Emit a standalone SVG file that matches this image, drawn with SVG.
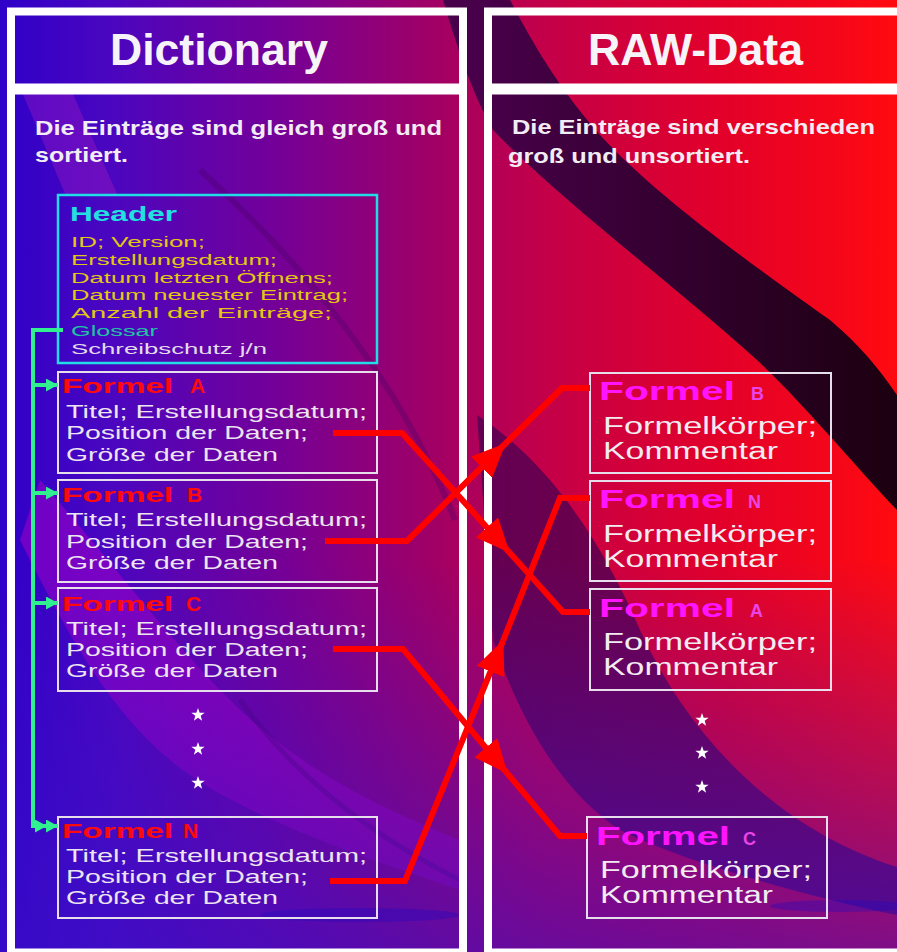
<svg xmlns="http://www.w3.org/2000/svg" width="897" height="952" viewBox="0 0 897 952">
<style>
.frame{fill:none;stroke:#ffffff;stroke-width:8}
.bar{stroke:#ffffff;stroke-width:11}
.box{fill:none;stroke:#e6deea;stroke-width:2}
.hdr{fill:none;stroke:#22dde6;stroke-width:2.5}
text{font-family:"Liberation Sans",Arial,sans-serif}
.title{font-weight:bold;font-size:44px;fill:#f6f4f8}
.sub{font-weight:bold;font-size:21px;fill:#f2ecf4}
.hname{font-weight:bold;font-size:20px;fill:#22e0e0}
.hl{font-size:14px;fill:#e2c812}
.hg{font-size:14px;fill:#1fc4a2}
.hs{font-size:14px;fill:#e2dcea}
.fl{font-weight:bold;font-size:21px;fill:#ff0a0a}
.bl{font-size:19px;fill:#ece4f0}
.fr{font-weight:bold;font-size:25px;fill:#ff14ff}
.frl{font-weight:bold;font-size:18px;fill:#e844e8}
.br{font-size:23px;fill:#f2ecf2}
.red{fill:none;stroke:#ff0000;stroke-width:6}
.grn{fill:none;stroke:#30f090;stroke-width:4}
.star{fill:#ffffff}
</style>
<defs>
<linearGradient id="bgH" x1="0" y1="0" x2="897" y2="0" gradientUnits="userSpaceOnUse">
<stop offset="0" stop-color="#2e00c8"/>
<stop offset="0.12" stop-color="#4a06c0"/>
<stop offset="0.3" stop-color="#72009a"/>
<stop offset="0.48" stop-color="#a00066"/>
<stop offset="0.6" stop-color="#c2004a"/>
<stop offset="0.8" stop-color="#e2002a"/>
<stop offset="1" stop-color="#ff0a10"/>
</linearGradient>
<linearGradient id="bgV" x1="0" y1="560" x2="0" y2="952" gradientUnits="userSpaceOnUse">
<stop offset="0" stop-color="#3a10c8" stop-opacity="0"/>
<stop offset="1" stop-color="#3a10c8" stop-opacity="0.65"/>
</linearGradient>
<linearGradient id="dark" x1="480" y1="0" x2="897" y2="0" gradientUnits="userSpaceOnUse">
<stop offset="0" stop-color="#48004a"/>
<stop offset="1" stop-color="#1c0010"/>
</linearGradient>
<marker id="ar" markerUnits="userSpaceOnUse" viewBox="0 0 34 30" refX="33" refY="15" markerWidth="34" markerHeight="30" orient="auto">
<path d="M0,0 L34,15 L0,30 Z" fill="#ff0000"/>
</marker>
<marker id="ag" markerUnits="userSpaceOnUse" viewBox="0 0 12 13" refX="12" refY="6.5" markerWidth="12" markerHeight="13" orient="auto">
<path d="M0,0 L12,6.5 L0,13 Z" fill="#30f090"/>
</marker>
<path id="st" d="M0,-7 L1.65,-2.27 L6.66,-2.16 L2.66,0.87 L4.11,5.66 L0,2.8 L-4.11,5.66 L-2.66,0.87 L-6.66,-2.16 L-1.65,-2.27 Z"/>
</defs>

<g id="background">
<rect x="0" y="0" width="897" height="952" fill="url(#bgH)"/>
<path d="M22,92 L72,92 L118,196 L66,196 Z" fill="#c020c0" opacity="0.3"/>
<path d="M40,480 C110,560 170,640 230,700 C290,760 360,800 460,840 L460,890 C340,850 230,810 170,760 C110,710 70,640 20,540 Z" fill="#b800c8" opacity="0.45"/>
<path d="M200,170 C300,260 400,380 455,520" fill="none" stroke="#4a0066" stroke-width="6" opacity="0.35"/>
<path d="M240,700 C290,770 360,830 460,880" fill="none" stroke="#4a0066" stroke-width="5" opacity="0.35"/>
<path d="M477,415 C560,470 610,560 640,630 C690,740 780,830 897,867 L897,915 C800,895 680,860 620,830 C560,790 520,720 493,640 Z" fill="#4a0052" opacity="0.75"/>
<path d="M505,-10 C530,40 560,90 600,135 C660,200 760,270 830,320 C860,345 880,370 897,395 L897,510 C850,460 800,400 757,360 C680,290 560,200 493,130 C470,90 455,40 440,-10 Z" fill="url(#dark)"/>
<rect x="0" y="560" width="897" height="392" fill="url(#bgV)"/>
<ellipse cx="360" cy="915" rx="100" ry="7" fill="#2008c0" opacity="0.35"/>
<ellipse cx="840" cy="906" rx="70" ry="6" fill="#2008c0" opacity="0.35"/>
</g>

<g id="panel-dictionary">
<rect class="frame" x="11" y="11.5" width="452" height="941"/>
<line class="bar" x1="11" y1="89" x2="463" y2="89"/>
<text class="title" x="110" y="65" textLength="218" lengthAdjust="spacingAndGlyphs">Dictionary</text>
<text class="sub" x="35" y="135" textLength="407" lengthAdjust="spacingAndGlyphs">Die Einträge sind gleich groß und</text>
<text class="sub" x="35" y="162" textLength="93" lengthAdjust="spacingAndGlyphs">sortiert.</text>
</g>

<g id="panel-raw">
<rect class="frame" x="488" y="11.5" width="430" height="941"/>
<line class="bar" x1="488" y1="89" x2="918" y2="89"/>
<text class="title" x="588" y="65" textLength="215" lengthAdjust="spacingAndGlyphs">RAW-Data</text>
<text class="sub" x="512" y="134" textLength="363" lengthAdjust="spacingAndGlyphs">Die Einträge sind verschieden</text>
<text class="sub" x="508" y="163" textLength="242" lengthAdjust="spacingAndGlyphs">groß und unsortiert.</text>
</g>

<g id="header">
<rect class="hdr" x="58" y="195" width="319" height="168"/>
<text class="hname" x="70" y="221" textLength="107" lengthAdjust="spacingAndGlyphs">Header</text>
<text class="hl" x="71" y="247" textLength="134" lengthAdjust="spacingAndGlyphs">ID; Version;</text>
<text class="hl" x="71" y="265" textLength="206" lengthAdjust="spacingAndGlyphs">Erstellungsdatum;</text>
<text class="hl" x="71" y="283" textLength="262" lengthAdjust="spacingAndGlyphs">Datum letzten Öffnens;</text>
<text class="hl" x="71" y="300" textLength="277" lengthAdjust="spacingAndGlyphs">Datum neuester Eintrag;</text>
<text class="hl" x="71" y="318" textLength="261" lengthAdjust="spacingAndGlyphs">Anzahl der Einträge;</text>
<text class="hg" x="71" y="336" textLength="87" lengthAdjust="spacingAndGlyphs">Glossar</text>
<text class="hs" x="71" y="354" textLength="196" lengthAdjust="spacingAndGlyphs">Schreibschutz j/n</text>
</g>

<g id="dict-formel-a">
<rect class="box" x="58" y="372" width="319" height="101"/>
<text class="fl" y="393"><tspan x="62" textLength="111" lengthAdjust="spacingAndGlyphs">Formel</tspan> <tspan x="190">A</tspan></text>
<text class="bl" x="66" y="418" textLength="301" lengthAdjust="spacingAndGlyphs">Titel; Erstellungsdatum;</text>
<text class="bl" x="66" y="439" textLength="242" lengthAdjust="spacingAndGlyphs">Position der Daten;</text>
<text class="bl" x="66" y="461" textLength="212" lengthAdjust="spacingAndGlyphs">Größe der Daten</text>
</g>
<g id="dict-formel-b">
<rect class="box" x="58" y="480" width="319" height="102"/>
<text class="fl" y="502"><tspan x="62" textLength="111" lengthAdjust="spacingAndGlyphs">Formel</tspan> <tspan x="187">B</tspan></text>
<text class="bl" x="66" y="526" textLength="301" lengthAdjust="spacingAndGlyphs">Titel; Erstellungsdatum;</text>
<text class="bl" x="66" y="548" textLength="242" lengthAdjust="spacingAndGlyphs">Position der Daten;</text>
<text class="bl" x="66" y="569" textLength="212" lengthAdjust="spacingAndGlyphs">Größe der Daten</text>
</g>
<g id="dict-formel-c">
<rect class="box" x="58" y="588" width="319" height="103"/>
<text class="fl" y="611"><tspan x="62" textLength="111" lengthAdjust="spacingAndGlyphs">Formel</tspan> <tspan x="186">C</tspan></text>
<text class="bl" x="66" y="635" textLength="301" lengthAdjust="spacingAndGlyphs">Titel; Erstellungsdatum;</text>
<text class="bl" x="66" y="656" textLength="242" lengthAdjust="spacingAndGlyphs">Position der Daten;</text>
<text class="bl" x="66" y="677" textLength="212" lengthAdjust="spacingAndGlyphs">Größe der Daten</text>
</g>
<g id="dict-formel-n">
<rect class="box" x="58" y="817" width="319" height="101"/>
<text class="fl" y="838"><tspan x="62" textLength="111" lengthAdjust="spacingAndGlyphs">Formel</tspan> <tspan x="183">N</tspan></text>
<text class="bl" x="66" y="862" textLength="301" lengthAdjust="spacingAndGlyphs">Titel; Erstellungsdatum;</text>
<text class="bl" x="66" y="883" textLength="242" lengthAdjust="spacingAndGlyphs">Position der Daten;</text>
<text class="bl" x="66" y="904" textLength="212" lengthAdjust="spacingAndGlyphs">Größe der Daten</text>
</g>

<g id="raw-formel-b">
<rect class="box" x="590" y="373" width="241" height="100"/>
<text class="fr" y="400"><tspan x="599" textLength="136" lengthAdjust="spacingAndGlyphs">Formel</tspan> <tspan class="frl" x="751">B</tspan></text>
<text class="br" x="603" y="434" textLength="214" lengthAdjust="spacingAndGlyphs">Formelkörper;</text>
<text class="br" x="603" y="459" textLength="175" lengthAdjust="spacingAndGlyphs">Kommentar</text>
</g>
<g id="raw-formel-n">
<rect class="box" x="590" y="481" width="241" height="100"/>
<text class="fr" y="508"><tspan x="599" textLength="136" lengthAdjust="spacingAndGlyphs">Formel</tspan> <tspan class="frl" x="748">N</tspan></text>
<text class="br" x="603" y="542" textLength="214" lengthAdjust="spacingAndGlyphs">Formelkörper;</text>
<text class="br" x="603" y="567" textLength="175" lengthAdjust="spacingAndGlyphs">Kommentar</text>
</g>
<g id="raw-formel-a">
<rect class="box" x="590" y="589" width="241" height="101"/>
<text class="fr" y="617"><tspan x="599" textLength="136" lengthAdjust="spacingAndGlyphs">Formel</tspan> <tspan class="frl" x="750">A</tspan></text>
<text class="br" x="603" y="650" textLength="214" lengthAdjust="spacingAndGlyphs">Formelkörper;</text>
<text class="br" x="603" y="675" textLength="175" lengthAdjust="spacingAndGlyphs">Kommentar</text>
</g>
<g id="raw-formel-c">
<rect class="box" x="587" y="817" width="240" height="101"/>
<text class="fr" y="845"><tspan x="596" textLength="134" lengthAdjust="spacingAndGlyphs">Formel</tspan> <tspan class="frl" x="743">C</tspan></text>
<text class="br" x="600" y="878" textLength="212" lengthAdjust="spacingAndGlyphs">Formelkörper;</text>
<text class="br" x="600" y="903" textLength="173" lengthAdjust="spacingAndGlyphs">Kommentar</text>
</g>

<g id="ellipsis-left">
<use href="#st" class="star" x="198" y="715"/>
<use href="#st" class="star" x="198" y="749"/>
<use href="#st" class="star" x="198" y="783"/>
</g>
<g id="ellipsis-right">
<use href="#st" class="star" x="702" y="720"/>
<use href="#st" class="star" x="702" y="753"/>
<use href="#st" class="star" x="702" y="787"/>
</g>

<g id="connectors">
<path class="grn" d="M63,330 H33 V826 H47" marker-end="url(#ag)"/>
<path class="grn" d="M33,826 H58" marker-end="url(#ag)"/>
<path class="grn" d="M33,385 H58" marker-end="url(#ag)"/>
<path class="grn" d="M33,493 H58" marker-end="url(#ag)"/>
<path class="grn" d="M33,603 H58" marker-end="url(#ag)"/>
<path class="red" d="M333,433 H402 L509,552" marker-end="url(#ar)"/>
<path class="red" d="M509,552 L563,612 H590"/>
<path class="red" d="M325,541 H407 L505,444" marker-end="url(#ar)"/>
<path class="red" d="M505,444 L562,388 H590"/>
<path class="red" d="M333,649 H403 L507,773" marker-end="url(#ar)"/>
<path class="red" d="M507,773 L560,836 H587"/>
<path class="red" d="M330,881 H405 L503,641" marker-end="url(#ar)"/>
<path class="red" d="M503,641 L560,498 H590"/>
</g>
</svg>
